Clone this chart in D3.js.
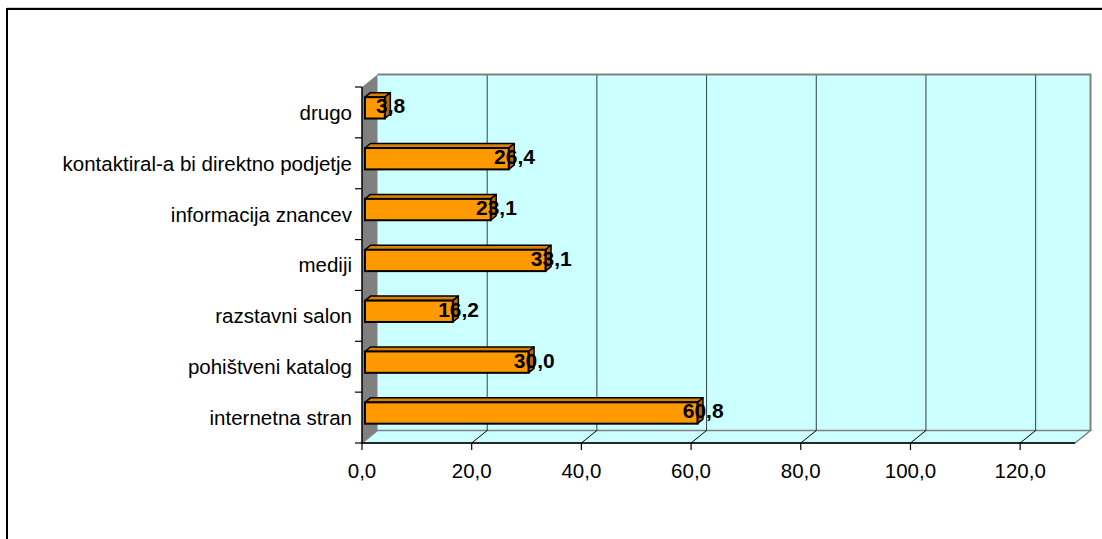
<!DOCTYPE html>
<html>
<head>
<meta charset="utf-8">
<script src="https://cdn.jsdelivr.net/npm/d3@7"></script>
<style>
  html, body { margin: 0; padding: 0; background: #fff; }
  svg { display: block; font-family: "Liberation Sans", Arial, sans-serif; }
</style>
</head>
<body>
<svg id="chart" width="1102" height="539"></svg>
<script>
// Survey answers, listed top to bottom as they appear on the category axis
const categories = [
  "drugo",
  "kontaktiral-a bi direktno podjetje",
  "informacija znancev",
  "mediji",
  "razstavni salon",
  "pohištveni katalog",
  "internetna stran"
];
const values = [3.8, 26.4, 23.1, 33.1, 16.2, 30.0, 60.8];
const tickValues = [0, 20, 40, 60, 80, 100, 120];
const axisMax = 130;

const svg = d3.select("#chart");
const fmt = v => d3.format(".1f")(v).replace(".", ",");

// Front plane of the 3D plot and its depth offset
const plotLeft = 362, plotRight = 1075, plotTop = 87, plotBottom = 443;
const depthX = 15.5, depthY = -12.5;

const x = d3.scaleLinear().domain([0, axisMax]).range([plotLeft, plotRight]);
const y = d3.scaleBand().domain(categories).range([plotTop, plotBottom]).paddingInner(0).paddingOuter(0);

// Outer chart border
svg.append("line").attr("x1", 7).attr("x2", 1102).attr("y1", 7.5).attr("y2", 7.5)
  .attr("stroke", "#d0d0d0").attr("stroke-width", 1);
svg.append("rect").attr("x", 7).attr("y", 9).attr("width", 1200).attr("height", 600)
  .attr("fill", "none").attr("stroke", "#000").attr("stroke-width", 2);

// Back wall
svg.append("rect")
  .attr("x", plotLeft + depthX).attr("y", plotTop + depthY)
  .attr("width", plotRight - plotLeft).attr("height", plotBottom - plotTop)
  .attr("fill", "#ccffff");
// Floor
svg.append("path")
  .attr("d", `M${plotLeft},${plotBottom} L${plotLeft + depthX},${plotBottom + depthY} L${plotRight + depthX},${plotBottom + depthY} L${plotRight},${plotBottom} Z`)
  .attr("fill", "#ccffff").attr("stroke", "#808080").attr("stroke-width", 1.5);
// Left side wall
svg.append("path")
  .attr("d", `M${plotLeft},${plotTop} L${plotLeft + depthX},${plotTop + depthY} L${plotLeft + depthX},${plotBottom + depthY} L${plotLeft},${plotBottom} Z`)
  .attr("fill", "#808080");

// Gridlines on the back wall and across the floor
const grid = svg.append("g");
tickValues.filter(v => v > 0).forEach(v => {
  const gx = x(v);
  grid.append("line")
    .attr("x1", gx + depthX).attr("x2", gx + depthX)
    .attr("y1", plotTop + depthY).attr("y2", plotBottom + depthY)
    .attr("stroke", "#000").attr("stroke-width", 1).attr("stroke-opacity", 0.75);
  grid.append("line")
    .attr("x1", gx).attr("y1", plotBottom)
    .attr("x2", gx + depthX).attr("y2", plotBottom + depthY)
    .attr("stroke", "#000").attr("stroke-width", 1);
});

// Back wall frame (top and right)
svg.append("path")
  .attr("d", `M${plotLeft + depthX},${plotTop + depthY} L${plotRight + depthX},${plotTop + depthY} L${plotRight + depthX},${plotBottom + depthY}`)
  .attr("fill", "none").attr("stroke", "#808080").attr("stroke-width", 2);

// Bars
const bw = y.bandwidth();
const bdx = 5.5, bdy = -4.5;
const bars = svg.append("g").selectAll("g").data(categories).join("g");
bars.each(function (c, i) {
  const g = d3.select(this);
  const x0 = x(0) + 3, x1 = x(values[i]) + 2;
  const yt = y(c) + bw * 0.2, yb = yt + bw * 0.42;
  g.append("path")
    .attr("d", `M${x0},${yt} L${x0 + bdx},${yt + bdy} L${x1 + bdx},${yt + bdy} L${x1},${yt} Z`)
    .attr("fill", "#d98200").attr("stroke", "#000").attr("stroke-width", 1.5).attr("stroke-linejoin", "round");
  g.append("path")
    .attr("d", `M${x1},${yt} L${x1 + bdx},${yt + bdy} L${x1 + bdx},${yb + bdy} L${x1},${yb} Z`)
    .attr("fill", "#b06a00").attr("stroke", "#000").attr("stroke-width", 1.5).attr("stroke-linejoin", "round");
  g.append("rect")
    .attr("x", x0).attr("y", yt).attr("width", x1 - x0).attr("height", yb - yt)
    .attr("fill", "#ff9900").attr("stroke", "#000").attr("stroke-width", 2);
  g.append("text")
    .attr("x", x1 + bdx / 2 + 3).attr("y", (yt + yb) / 2 + 5.5)
    .attr("text-anchor", "middle")
    .attr("font-size", "21px").attr("font-weight", "bold").attr("fill", "#000")
    .text(fmt(values[i]));
});

// Category axis
const yAxis = svg.append("g");
yAxis.append("line").attr("x1", plotLeft).attr("x2", plotLeft).attr("y1", plotTop).attr("y2", plotBottom)
  .attr("stroke", "#000").attr("stroke-width", 1.5);
const bounds = categories.map(c => y(c)).concat([plotBottom]);
bounds.forEach(b => {
  yAxis.append("line").attr("x1", plotLeft - 7).attr("x2", plotLeft).attr("y1", b).attr("y2", b)
    .attr("stroke", "#000").attr("stroke-width", 1.2);
});
yAxis.selectAll("text").data(categories).join("text")
  .attr("x", 352).attr("y", c => y(c) + bw / 2)
  .attr("dy", "0.36em").attr("text-anchor", "end")
  .attr("font-size", "20.5px").attr("fill", "#000")
  .text(c => c);

// Value axis
const xAxis = svg.append("g");
xAxis.append("line").attr("x1", plotLeft).attr("x2", plotRight).attr("y1", plotBottom).attr("y2", plotBottom)
  .attr("stroke", "#000").attr("stroke-width", 1.5);
tickValues.forEach(v => {
  xAxis.append("line").attr("x1", x(v)).attr("x2", x(v)).attr("y1", plotBottom).attr("y2", plotBottom + 7)
    .attr("stroke", "#000").attr("stroke-width", 1.2);
  xAxis.append("text").attr("x", x(v)).attr("y", 478)
    .attr("text-anchor", "middle").attr("font-size", "20.5px").attr("fill", "#000")
    .text(fmt(v));
});
</script>
</body>
</html>
